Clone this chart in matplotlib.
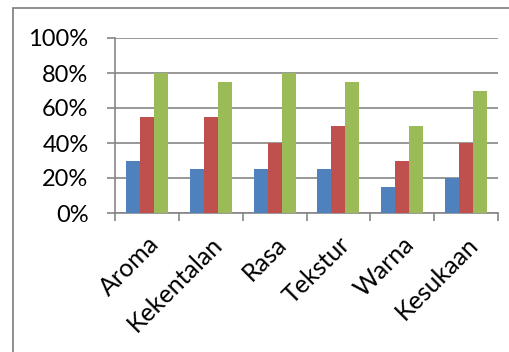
import matplotlib.pyplot as plt
import matplotlib.patches as patches
import numpy as np

categories = ["Aroma", "Kekentalan", "Rasa", "Tekstur", "Warna", "Kesukaan"]
series_blue = [30, 25, 25, 25, 15, 20]
series_red = [55, 55, 40, 50, 30, 40]
series_green = [80, 75, 80, 75, 50, 70]
colors = ["#4F81BD", "#C0504D", "#9BBB59"]

plt.rcParams['font.family'] = ['Lato', 'DejaVu Sans']

fig = plt.figure(figsize=(5.09, 3.52), dpi=100)
# outer chart frame (cropped on right and bottom)
fig.patches.append(patches.Rectangle((13 / 509, -0.1), 1.2, 1 - 8 / 352 + 0.1,
                                     transform=fig.transFigure, fill=False,
                                     edgecolor="#868686", linewidth=1.3))

ax = fig.add_axes([115 / 509, 1 - 213 / 352, (498 - 115) / 509, (213 - 38) / 352])

x = np.arange(len(categories))
w = 0.22
for i, vals in enumerate([series_blue, series_red, series_green]):
    ax.bar(x + (i - 1) * w, vals, width=w, color=colors[i], zorder=3)

ax.set_xlim(-0.5, len(categories) - 0.5)
ax.set_ylim(0, 100)
ax.set_yticks(range(0, 101, 20))
ax.set_yticklabels([f"{v}%" for v in range(0, 101, 20)], fontsize=17)
ax.yaxis.grid(True, color="#868686", linewidth=1.2, zorder=0)
ax.tick_params(axis="y", length=6, color="#868686", width=1.2, pad=13)

ax.set_xticks(np.arange(-0.5, len(categories), 1))
ax.set_xticklabels([])
ax.set_xticks(x, minor=True)
ax.set_xticklabels(categories, minor=True, rotation=45, ha="right",
                   rotation_mode="anchor", fontsize=18)
ax.tick_params(axis="x", which="major", length=6, color="#868686", width=1.2)
ax.tick_params(axis="x", which="minor", length=0, pad=14)

for s in ["top", "right"]:
    ax.spines[s].set_visible(False)
for s in ["left", "bottom"]:
    ax.spines[s].set_color("#868686")
    ax.spines[s].set_linewidth(1.2)

fig.savefig("out.png", dpi=100)
